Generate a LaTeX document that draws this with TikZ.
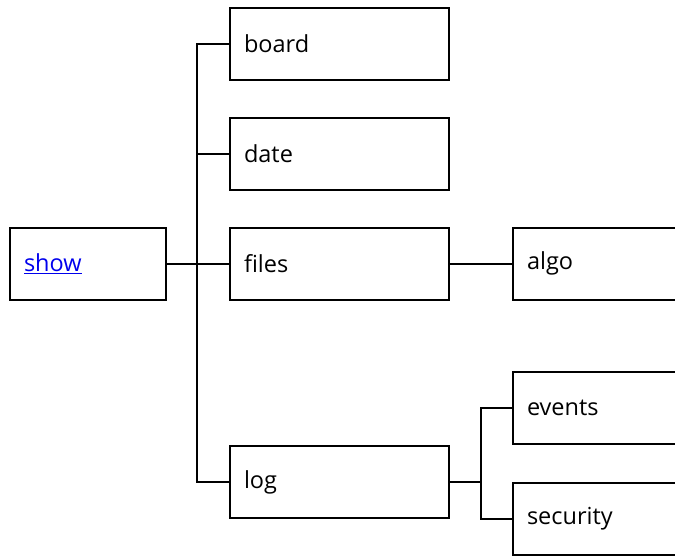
\documentclass[tikz,border=0pt]{standalone}
\usepackage{fontspec}
\setmainfont{Open Sans}
\begin{document}
\begin{tikzpicture}[x=1pt,y=-1pt,
  box/.style={draw=black,line width=2pt,rectangle,minimum height=72pt,inner xsep=14pt,inner ysep=0pt,align=left,font=\fontsize{23.5}{28}\selectfont,text=black},
  midbox/.style={box,text width=191pt},
  leftbox/.style={box,text width=128pt},
  rightbox/.style={box,text width=200pt},
  conn/.style={draw=black,line width=2pt}]
\clip (0,0) rectangle (675,557);
\node[leftbox,anchor=west] (show) at (9,263.5) {\textcolor[rgb]{0,0,0.93}{\underline{show}}};
\node[midbox,anchor=west] (board) at (229,44) {board};
\node[midbox,anchor=west] (date) at (229,154) {date};
\node[midbox,anchor=west] (files) at (229,263.5) {files};
\node[midbox,anchor=west] (log) at (229,482) {log};
\node[rightbox,anchor=west] (algo) at (512,263.5) {algo};
\node[rightbox,anchor=west] (events) at (512,408) {events};
\node[rightbox,anchor=west] (security) at (512,518.5) {security};
\coordinate (j1) at (197,0);
\coordinate (j2) at (481,0);
\draw[conn] (show.east) -- (files.west);
\draw[conn] (board.west) -- (board.west -| j1) -- (log.west -| j1) -- (log.west);
\draw[conn] (date.west) -- (date.west -| j1);
\draw[conn] (files.east) -- (algo.west);
\draw[conn] (log.east) -- (log.east -| j2);
\draw[conn] (events.west) -- (events.west -| j2) -- (security.west -| j2) -- (security.west);
\end{tikzpicture}
\end{document}
